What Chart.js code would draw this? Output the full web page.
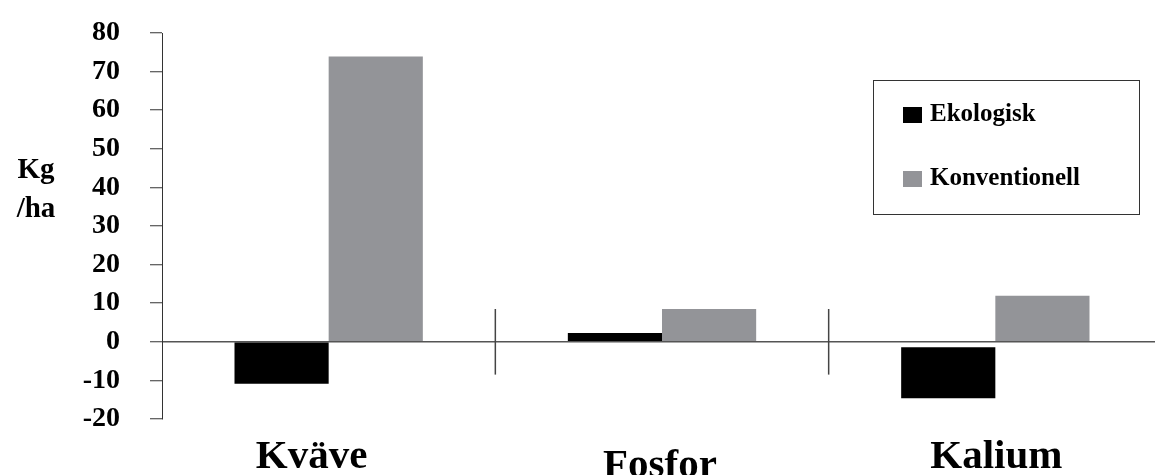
<!DOCTYPE html>
<html>
<head>
<meta charset="utf-8">
<script src="https://cdn.jsdelivr.net/npm/chart.js@4"></script>
<style>
  html, body { margin: 0; padding: 0; background: #fff; overflow: hidden; }
  #wrap { width: 1155px; height: 475px; overflow: hidden; }
</style>
</head>
<body>
<div id="wrap"><canvas id="chart" width="1162" height="475"></canvas></div>
<script>
// Data
const categories = ["Kväve", "Fosfor", "Kalium"];
const seriesNames = ["Ekologisk", "Konventionell"];
// Ekologisk: Kalium bar floats just below zero in the original
const ekologisk = [[0, -10.9], [0, 2.3], [-1.4, -14.6]];
const konventionell = [73.9, 8.5, 11.9];
const yTicks = [80, 70, 60, 50, 40, 30, 20, 10, 0, -10, -20];

const serif = "'Liberation Serif', 'Times New Roman', serif";
const colors = ["#000000", "#939498"];

// Extra bits: y title, category labels, separators, boxed legend
const decorations = {
    id: "decorations",
    afterDraw(chart) {
        const ctx = chart.ctx;
        const x = chart.scales.x;
        const y = chart.scales.y;
        ctx.save();

        // y axis title
        ctx.fillStyle = "#000";
        ctx.font = "bold 29px " + serif;
        ctx.textAlign = "center";
        ctx.textBaseline = "middle";
        ctx.fillText("Kg", 36, 171);
        ctx.fillText("/ha", 36, 210);

        // category labels (slightly off-center like the original)
        const nudges = [[-17, 468], [-2, 477], [1, 468]];
        ctx.font = "bold 41px " + serif;
        ctx.textBaseline = "alphabetic";
        categories.forEach((c, i) => {
            ctx.fillText(c, x.getPixelForValue(i) + nudges[i][0], nudges[i][1]);
        });

        // short separators between categories
        ctx.strokeStyle = "#444";
        ctx.lineWidth = 1.5;
        for (let i = 0; i < categories.length - 1; i++) {
            const px = (x.getPixelForValue(i) + x.getPixelForValue(i + 1)) / 2;
            ctx.beginPath();
            ctx.moveTo(px, y.getPixelForValue(8.5));
            ctx.lineTo(px, y.getPixelForValue(-8.5));
            ctx.stroke();
        }

        // legend box
        ctx.strokeStyle = "#333";
        ctx.lineWidth = 1;
        ctx.strokeRect(873.5, 80.5, 266, 134);
        ctx.font = "bold 25px " + serif;
        ctx.textAlign = "left";
        ctx.textBaseline = "middle";
        chart.data.datasets.forEach((ds, i) => {
            const cy = 115 + i * 64;
            ctx.fillStyle = ds.backgroundColor;
            ctx.fillRect(903, cy - 8, 19, 16);
            ctx.fillStyle = "#000";
            ctx.fillText(ds.label, 930, cy);
        });
        ctx.restore();
    }
};

new Chart(document.getElementById("chart"), {
    type: "bar",
    data: {
        labels: categories,
        datasets: [{
            label: seriesNames[0],
            data: ekologisk,
            backgroundColor: colors[0],
            categoryPercentage: 0.565,
            barPercentage: 1.0
        }, {
            label: seriesNames[1],
            data: konventionell,
            backgroundColor: colors[1],
            categoryPercentage: 0.565,
            barPercentage: 1.0
        }]
    },
    options: {
        responsive: false,
        animation: false,
        layout: { padding: { top: 33, bottom: 48, right: 0, left: 0 } },
        plugins: {
            legend: { display: false },
            tooltip: { enabled: false }
        },
        scales: {
            x: {
                ticks: { display: false },
                grid: { display: false },
                border: { display: false }
            },
            y: {
                min: -20,
                max: 80,
                afterBuildTicks: (scale) => {
                    scale.ticks = yTicks.map(v => ({ value: v }));
                },
                afterFit: (scale) => {
                    scale.width = 162;
                    scale.paddingTop = 0;
                    scale.paddingBottom = 0;
                },
                ticks: {
                    color: "#000",
                    padding: 30,
                    font: { family: serif, size: 28, weight: "bold" }
                },
                grid: {
                    color: (c) => (c.tick && c.tick.value === 0 ? "#555" : "rgba(0,0,0,0)"),
                    lineWidth: 1.5,
                    tickColor: "#333",
                    tickLength: 12,
                    tickWidth: 1
                },
                border: { color: "#333", width: 1 }
            }
        }
    },
    plugins: [decorations]
});
</script>
</body>
</html>
